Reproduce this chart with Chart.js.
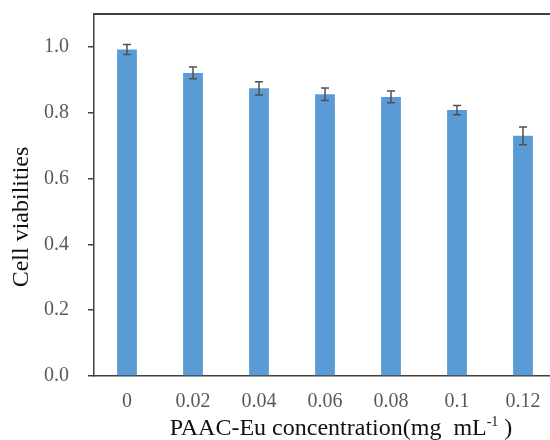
<!DOCTYPE html>
<html>
<head>
<meta charset="utf-8">
<script src="https://cdn.jsdelivr.net/npm/chart.js@4"></script>
<style>
  html, body { margin: 0; padding: 0; background: #fff; overflow: hidden; }
  #wrap { position: absolute; left: 0; top: 0; width: 562px; height: 440px; }
</style>
</head>
<body>
<div id="wrap"><canvas id="chart"></canvas></div>
<script>
  // Data
  const concentrations = ['0', '0.02', '0.04', '0.06', '0.08', '0.1', '0.12'];
  const viability = [0.992, 0.921, 0.874, 0.856, 0.848, 0.808, 0.730];
  const viabilityErr = [0.015, 0.018, 0.020, 0.019, 0.018, 0.014, 0.027];

  const serif = '"Liberation Serif", "Times New Roman", serif';
  const axisColor = '#404040';

  // error bars
  const errorBars = {
    id: 'errorBars',
    afterDatasetsDraw(chart) {
      const ctx = chart.ctx;
      const yScale = chart.scales.y;
      const meta = chart.getDatasetMeta(0);
      ctx.save();
      ctx.strokeStyle = '#505050';
      ctx.lineWidth = 1.5;
      meta.data.forEach((bar, i) => {
        const v = viability[i], e = viabilityErr[i];
        const yHi = yScale.getPixelForValue(v + e);
        const yLo = yScale.getPixelForValue(v - e);
        ctx.beginPath();
        ctx.moveTo(bar.x, yHi); ctx.lineTo(bar.x, yLo);
        ctx.moveTo(bar.x - 4, yHi); ctx.lineTo(bar.x + 4, yHi);
        ctx.moveTo(bar.x - 4, yLo); ctx.lineTo(bar.x + 4, yLo);
        ctx.stroke();
      });
      ctx.restore();
    }
  };

  // top border + axis titles (x title has a superscript)
  const frameAndTitles = {
    id: 'frameAndTitles',
    afterDraw(chart) {
      const ctx = chart.ctx;
      const a = chart.chartArea;
      ctx.save();
      ctx.strokeStyle = axisColor;
      ctx.lineWidth = 2;
      ctx.beginPath();
      ctx.moveTo(a.left - 1, a.top);
      ctx.lineTo(a.right, a.top);
      ctx.lineTo(a.right, a.bottom);
      ctx.stroke();

      ctx.fillStyle = '#111';
      ctx.textBaseline = 'alphabetic';
      // x title
      const main = 'PAAC-Eu concentration(mg\u00a0\u00a0mL';
      const sup = '-1';
      const tail = '\u00a0)';
      ctx.font = '24px ' + serif;
      const wMain = ctx.measureText(main).width;
      const wTail = ctx.measureText(tail).width;
      ctx.font = '14px ' + serif;
      const wSup = ctx.measureText(sup).width;
      const total = wMain + wSup + wTail;
      let x = 341 - total / 2;
      const base = 435;
      ctx.font = '24px ' + serif;
      ctx.textAlign = 'left';
      ctx.fillText(main, x, base);
      x += wMain;
      ctx.font = '14px ' + serif;
      ctx.fillText(sup, x, base - 9);
      x += wSup;
      ctx.font = '24px ' + serif;
      ctx.fillText(tail, x, base);

      // y title
      ctx.translate(22, 217);
      ctx.rotate(-Math.PI / 2);
      ctx.textAlign = 'center';
      ctx.textBaseline = 'middle';
      ctx.font = '24px ' + serif;
      ctx.fillText('Cell viabilities', 0, 0);
      ctx.restore();
    }
  };

  new Chart(document.getElementById('chart'), {
    type: 'bar',
    data: {
      labels: concentrations,
      datasets: [{
        data: viability,
        backgroundColor: '#5B9BD5',
        borderWidth: 0,
        categoryPercentage: 1,
        barPercentage: 0.3
      }]
    },
    options: {
      responsive: true,
      maintainAspectRatio: false,
      animation: false,
      layout: { padding: { left: 0, top: 14, right: 6, bottom: 0 } },
      plugins: {
        legend: { display: false },
        tooltip: { enabled: false }
      },
      scales: {
        x: {
          grid: { display: false, drawTicks: false },
          border: { display: true, color: axisColor, width: 1.5 },
          ticks: {
            color: '#595959',
            padding: 14,
            font: { family: serif, size: 20 }
          },
          afterFit(scale) {
            scale.height = 64;
            scale.paddingLeft = 0;
            scale.paddingRight = 0;
          }
        },
        y: {
          min: 0,
          max: 1.1,
          grid: { drawOnChartArea: false, drawTicks: true, tickLength: 6, color: axisColor, lineWidth: 1.5 },
          border: { display: true, color: axisColor, width: 1.5 },
          ticks: {
            stepSize: 0.2,
            includeBounds: false,
            color: '#595959',
            padding: 19,
            font: { family: serif, size: 20 },
            callback: v => v.toFixed(1)
          },
          afterFit(scale) {
            scale.width = 94;
            scale.paddingTop = 0;
            scale.paddingBottom = 0;
          }
        }
      }
    },
    plugins: [errorBars, frameAndTitles]
  });
</script>
</body>
</html>
